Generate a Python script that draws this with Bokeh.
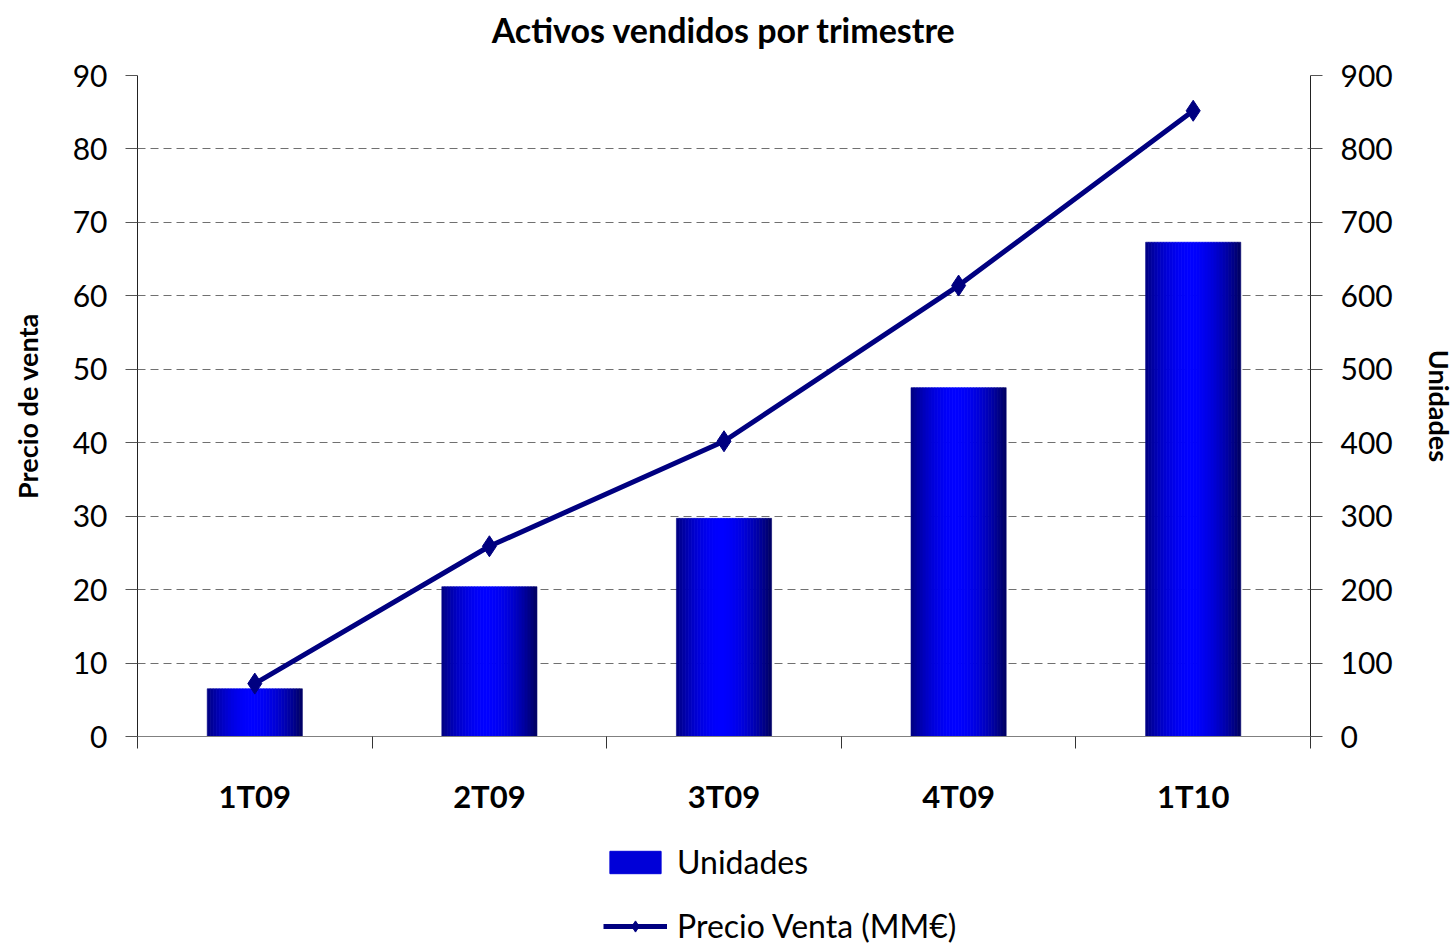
from bokeh.plotting import figure
from bokeh.layouts import column
from bokeh.models import (Range1d, LinearAxis, FixedTicker, Legend, LegendItem, Title)
from bokeh.embed import file_html
from bokeh.resources import INLINE

# ---- data ----
categories = ["1T09", "2T09", "3T09", "4T09", "1T10"]
unidades = [65, 204, 297, 475, 673]
precio_venta = [7.2, 25.9, 40.2, 61.4, 85.2]
left_ticks = [0, 10, 20, 30, 40, 50, 60, 70, 80, 90]
right_ticks = [0, 100, 200, 300, 400, 500, 600, 700, 800, 900]

FONT = "Lato"
NAVY = "#000080"

n = len(categories)
xs = [i + 0.5 for i in range(n)]

p = figure(frame_width=1173, frame_height=661, output_backend="svg", toolbar_location=None,
           x_range=Range1d(0, n), y_range=Range1d(left_ticks[0], left_ticks[-1]),
           min_border_left=137, min_border_right=129, min_border_top=75,
           min_border_bottom=90, title=None)
p.extra_y_ranges = {"u": Range1d(right_ticks[0], right_ticks[-1])}
p.outline_line_color = None
p.background_fill_color = "white"
p.border_fill_color = "white"

# title (with a spacer between it and the frame)
p.add_layout(Title(text=" ", text_font_size="8px"), "above")
p.add_layout(Title(text="Activos vendidos por trimestre", align="center",
                   text_font=FONT, text_font_size="34px", text_font_style="bold",
                   text_color="black"), "above")

# grid
p.xgrid.visible = False
p.ygrid.ticker = FixedTicker(ticks=left_ticks)
p.ygrid.grid_line_color = "#707070"
p.ygrid.grid_line_dash = "8 5"
p.ygrid.grid_line_width = 1


def style_y(ax, label_standoff):
    ax.major_tick_out = 12
    ax.major_tick_in = 0
    ax.minor_tick_line_color = None
    ax.axis_line_color = "#222222"
    ax.major_tick_line_color = "#555555"
    ax.major_label_text_font = FONT
    ax.major_label_text_font_size = "30px"
    ax.major_label_text_color = "black"
    ax.major_label_standoff = 18
    ax.axis_label_text_font = FONT
    ax.axis_label_text_font_size = "27px"
    ax.axis_label_text_font_style = "bold"
    ax.axis_label_text_color = "black"
    ax.axis_label_standoff = label_standoff


ya = p.yaxis[0]
ya.ticker = FixedTicker(ticks=left_ticks)
ya.axis_label = "Precio de venta"
style_y(ya, 26)

ra = LinearAxis(y_range_name="u", ticker=FixedTicker(ticks=right_ticks),
                axis_label="Unidades")
style_y(ra, 27)
p.add_layout(ra, "right")

# bottom axis (tick marks at category boundaries)
xa = p.xaxis[0]
xa.ticker = FixedTicker(ticks=list(range(n + 1)))
xa.major_label_overrides = {i: "" for i in range(n + 1)}
xa.major_label_standoff = 0
xa.major_tick_out = 12
xa.major_tick_in = 0
xa.minor_tick_line_color = None
xa.axis_line_color = "#808080"
xa.major_tick_line_color = "#333333"

# bottom labels axis
la = LinearAxis(ticker=FixedTicker(ticks=xs),
                major_label_overrides={x: c for x, c in zip(xs, categories)})
la.axis_line_color = None
la.major_tick_line_color = None
la.minor_tick_line_color = None
la.major_label_text_font = FONT
la.major_label_text_font_size = "31px"
la.major_label_text_font_style = "bold"
la.major_label_text_color = "black"
la.major_label_standoff = 22
p.add_layout(la, "below")

# gradient bars built from thin strips
bw = 0.405
N = 32
peak = 0.47
for k in range(N):
    pos = (k + 0.5) / N
    if pos <= peak:
        d = (peak - pos) / peak
        edge = 0x80
    else:
        d = (pos - peak) / (1 - peak)
        edge = 0x60
    b = int(round(edge + (255 - edge) * (1 - d ** 1.8)))
    col = "#0000%02x" % b
    off = -bw / 2 + pos * bw
    p.vbar(x=[x + off for x in xs], top=unidades, width=bw / N * 1.05,
           bottom=0, y_range_name="u", fill_color=col, line_color=col,
           line_width=0.6)

# line
p.line(xs, precio_venta, line_color=NAVY, line_width=5)
p.scatter(xs, precio_venta, marker="diamond", size=21, fill_color=NAVY, line_color=NAVY)

# ---- legend in its own strip below (dummy renderers kept out of view) ----
lg = figure(width=1439, height=121, output_backend="svg", toolbar_location=None,
            x_range=Range1d(0, 1), y_range=Range1d(0, 1),
            min_border_left=0, min_border_right=0, min_border_top=0, min_border_bottom=0)
lg.axis.visible = False
lg.grid.visible = False
lg.outline_line_color = None
bar_leg = lg.vbar(x=[-5], top=[-5], bottom=[-6], width=0.1,
                  fill_color="#0000d8", line_color="#0000d8")
line_leg = lg.line(x=[-5, -4], y=[-5, -5], line_color=NAVY, line_width=5)
mark_leg = lg.scatter(x=[-5], y=[-5], marker="diamond", size=17,
                      fill_color=NAVY, line_color=NAVY)

legend = Legend(items=[
    LegendItem(label="Unidades", renderers=[bar_leg]),
    LegendItem(label="Precio Venta (MM€)", renderers=[line_leg, mark_leg]),
], orientation="vertical", location=(466, 2))
legend.border_line_color = None
legend.background_fill_alpha = 0
legend.label_text_font = FONT
legend.label_text_font_size = "32px"
legend.label_text_color = "black"
legend.glyph_width = 64
legend.glyph_height = 28
legend.label_height = 36
legend.spacing = 25
legend.padding = 0
legend.margin = 0
legend.label_standoff = 10
lg.add_layout(legend, "center")

layout = column(p, lg, spacing=0)
open("out.html", "w").write(file_html(layout, INLINE))
